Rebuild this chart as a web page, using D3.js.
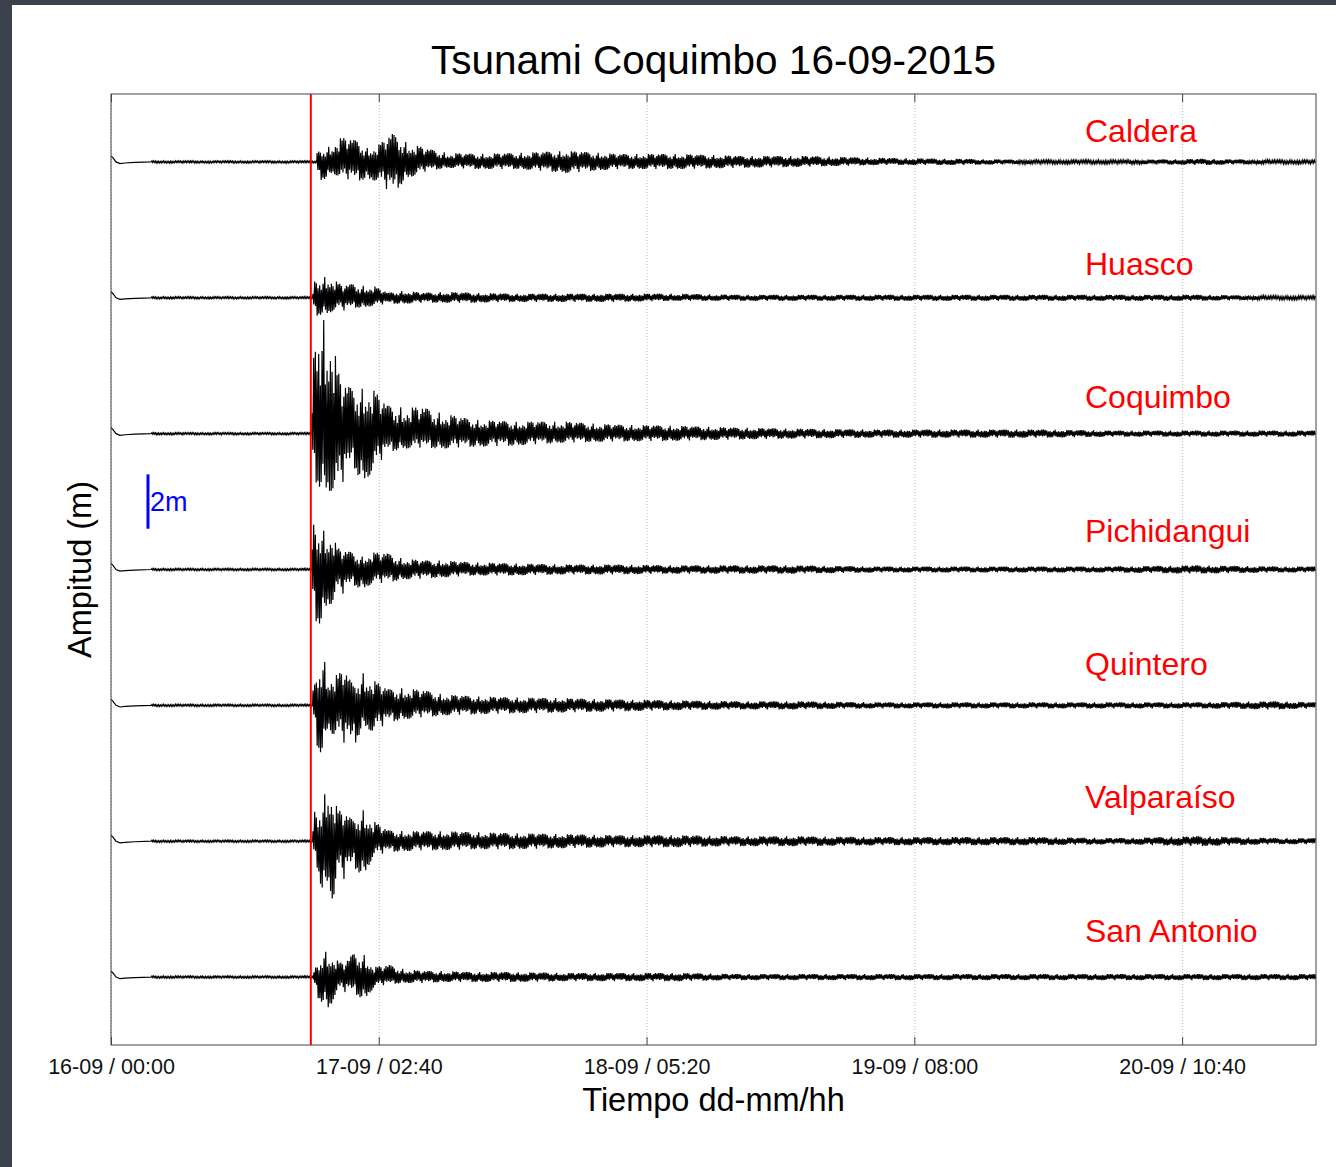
<!DOCTYPE html>
<html>
<head>
<meta charset="utf-8">
<script src="https://cdn.jsdelivr.net/npm/d3@7"></script>
<style>
  html, body { margin: 0; padding: 0; background: #ffffff; }
  svg { display: block; }
  text { font-family: "Liberation Sans", Arial, sans-serif; }
</style>
</head>
<body>
<svg id="chart" width="1336" height="1167"></svg>
<script>
// ---------------- DATA ----------------
const stations = ["Caldera", "Huasco", "Coquimbo", "Pichidangui", "Quintero", "Valparaíso", "San Antonio"];
const stationOffsetM = [30, 25, 20, 15, 10, 5, 0];          // vertical stacking offset (m)
const arrivalMin = [1231, 1207, 1201, 1201, 1207, 1207, 1213]; // first arrival, minutes after 16-09 00:00
const quakeMin = 1194;                                        // 16-09 19:54 (red line)

const xTickMinutes = [0, 1600, 3200, 4800, 6400];
const xTickLabels = ["16-09 / 00:00", "17-09 / 02:40", "18-09 / 05:20", "19-09 / 08:00", "20-09 / 10:40"];

// record start transient (minutes, metres), shared by all gauges
const startShape = [[0, 0.22], [12, 0.15], [30, 0.0], [54, -0.06], [84, -0.04], [143, -0.02], [240, 0]];
const baselineNoiseM = 0.04;

// envelope sample times: minutes after each gauge's arrival
const envRelMin = [0, 10, 30, 60, 90, 120, 150, 180, 240, 300, 360, 450, 540, 660, 780, 960, 1200, 1500, 1800, 2160, 2520, 2880, 3360, 3840, 4320, 4800, 5280, 5760, 6000];

// upper envelope (m, crest heights)
const envUpCaldera     = [0.33, 0.40, 0.44, 0.51, 0.66, 0.85, 0.88, 0.88, 0.77, 0.51, 0.59, 1.03, 0.70, 0.48, 0.33, 0.29, 0.33, 0.40, 0.29, 0.29, 0.22, 0.22, 0.15, 0.11, 0.07, 0.07, 0.11, 0.07, 0.07];
const envUpHuasco      = [0.15, 0.63, 0.70, 0.74, 0.81, 0.70, 0.55, 0.44, 0.51, 0.44, 0.44, 0.18, 0.26, 0.18, 0.22, 0.18, 0.15, 0.15, 0.15, 0.15, 0.11, 0.11, 0.11, 0.11, 0.11, 0.11, 0.11, 0.07, 0.07];
const envUpCoquimbo    = [0.74, 2.94, 4.60, 4.34, 3.86, 3.79, 2.39, 1.84, 1.65, 1.65, 1.65, 1.03, 0.96, 0.96, 0.74, 0.51, 0.44, 0.44, 0.33, 0.29, 0.22, 0.18, 0.15, 0.15, 0.15, 0.11, 0.11, 0.11, 0.11];
const envUpPichidangui = [0.74, 1.73, 1.47, 1.51, 1.25, 1.32, 0.81, 0.70, 0.63, 0.48, 0.63, 0.59, 0.40, 0.33, 0.33, 0.26, 0.22, 0.18, 0.18, 0.15, 0.15, 0.15, 0.11, 0.11, 0.11, 0.11, 0.15, 0.11, 0.11];
const envUpQuintero    = [0.55, 0.81, 1.29, 1.84, 1.10, 1.14, 1.10, 1.36, 0.74, 1.18, 0.92, 0.59, 0.63, 0.55, 0.40, 0.33, 0.29, 0.26, 0.22, 0.18, 0.15, 0.15, 0.11, 0.11, 0.11, 0.11, 0.11, 0.15, 0.11];
const envUpValparaiso  = [0.37, 1.14, 1.03, 1.51, 2.17, 1.62, 1.14, 1.07, 0.77, 1.14, 0.74, 0.40, 0.37, 0.37, 0.37, 0.33, 0.29, 0.26, 0.22, 0.22, 0.18, 0.18, 0.15, 0.15, 0.15, 0.11, 0.18, 0.11, 0.11];
const envUpSanAntonio  = [0.18, 0.37, 0.51, 0.99, 0.81, 0.74, 0.55, 0.51, 0.88, 0.81, 0.37, 0.44, 0.29, 0.22, 0.22, 0.18, 0.18, 0.15, 0.15, 0.15, 0.11, 0.11, 0.11, 0.11, 0.11, 0.11, 0.11, 0.11, 0.11];

// lower envelope (m, trough depths)
const envDnCaldera     = [0.33, 0.66, 0.66, 0.59, 0.40, 0.51, 0.59, 0.63, 0.70, 0.63, 0.70, 1.18, 0.59, 0.33, 0.22, 0.26, 0.26, 0.40, 0.26, 0.26, 0.22, 0.18, 0.11, 0.11, 0.07, 0.07, 0.11, 0.07, 0.07];
const envDnHuasco      = [0.15, 0.66, 0.66, 0.59, 0.59, 0.48, 0.40, 0.48, 0.37, 0.37, 0.29, 0.22, 0.22, 0.18, 0.18, 0.18, 0.15, 0.15, 0.15, 0.11, 0.11, 0.11, 0.11, 0.11, 0.11, 0.11, 0.11, 0.07, 0.07];
const envDnCoquimbo    = [0.51, 1.47, 1.91, 1.99, 2.10, 2.10, 2.17, 1.84, 1.10, 1.84, 1.40, 0.70, 0.55, 0.51, 0.55, 0.48, 0.44, 0.33, 0.29, 0.26, 0.22, 0.18, 0.15, 0.15, 0.15, 0.11, 0.11, 0.11, 0.11];
const envDnPichidangui = [0.74, 1.65, 1.99, 1.99, 1.29, 1.25, 0.81, 0.92, 0.55, 0.74, 0.51, 0.48, 0.37, 0.33, 0.29, 0.22, 0.22, 0.18, 0.18, 0.15, 0.15, 0.15, 0.11, 0.11, 0.11, 0.11, 0.15, 0.11, 0.11];
const envDnQuintero    = [0.37, 0.74, 1.73, 1.73, 0.74, 1.10, 1.18, 1.36, 1.58, 0.74, 0.99, 0.63, 0.51, 0.44, 0.37, 0.33, 0.29, 0.26, 0.22, 0.18, 0.15, 0.15, 0.11, 0.11, 0.11, 0.11, 0.11, 0.15, 0.11];
const envDnValparaiso  = [0.29, 0.70, 1.07, 2.06, 1.43, 2.24, 1.18, 1.43, 0.92, 1.32, 0.55, 0.40, 0.37, 0.33, 0.33, 0.29, 0.29, 0.26, 0.22, 0.22, 0.18, 0.18, 0.15, 0.15, 0.15, 0.11, 0.18, 0.11, 0.11];
const envDnSanAntonio  = [0.18, 0.55, 0.85, 0.96, 1.21, 0.74, 0.48, 0.55, 0.59, 0.85, 0.37, 0.26, 0.22, 0.22, 0.18, 0.18, 0.18, 0.15, 0.15, 0.15, 0.11, 0.11, 0.11, 0.11, 0.11, 0.11, 0.11, 0.11, 0.11];

const envUp = [envUpCaldera, envUpHuasco, envUpCoquimbo, envUpPichidangui, envUpQuintero, envUpValparaiso, envUpSanAntonio];
const envDn = [envDnCaldera, envDnHuasco, envDnCoquimbo, envDnPichidangui, envDnQuintero, envDnValparaiso, envDnSanAntonio];

// relative size of successive extremes within the envelope
const wigglePattern = [1.0, 0.6, 0.95, 0.45, 0.8, 1.0, 0.5, 0.9, 0.65, 1.0, 0.4, 0.9, 0.7, 0.55, 1.0, 0.75, 0.45, 0.95, 0.6, 0.85, 0.5, 1.0, 0.7];
const halfStepMin = 5;

const scaleBarMin = 221, scaleBarFrom = 16.5, scaleBarTo = 18.5;

// ---------------- DRAW ----------------
const W = 1336, H = 1167;
const P = { left: 111, right: 1316, top: 94, bottom: 1045 };
const svg = d3.select("#chart");

svg.append("rect").attr("width", W).attr("height", H).attr("fill", "#3b424d");
svg.append("rect").attr("x", 12).attr("y", 5).attr("width", W - 12).attr("height", H - 5).attr("fill", "#ffffff");

const x = d3.scaleLinear().domain([0, 7200]).range([P.left, P.right]);
const y = d3.scaleLinear().domain([-2.5, 32.5]).range([P.bottom, P.top]);

svg.append("defs").append("clipPath").attr("id", "plotclip")
  .append("rect").attr("x", P.left).attr("y", P.top)
  .attr("width", P.right - P.left).attr("height", P.bottom - P.top);

// grid lines
const grid = svg.append("g").attr("transform", `translate(0,${P.bottom})`)
  .call(d3.axisBottom(x).tickValues(xTickMinutes).tickSize(-(P.bottom - P.top)).tickFormat(""));
grid.select(".domain").remove();
grid.selectAll("line").attr("stroke", "#b8b8b8").attr("stroke-dasharray", "1,2").attr("stroke-width", 1);

// traces
const line = d3.line().x(d => x(d[0])).y(d => d[1]);
const traces = svg.append("g").attr("clip-path", "url(#plotclip)");
stations.forEach((name, i) => {
  const off = stationOffsetM[i];
  const arr = arrivalMin[i];
  const pts = startShape.map(d => [d[0], d[1]]);
  let k = 0;
  for (let t = startShape[startShape.length - 1][0] + halfStepMin; t < arr; t += halfStepMin, k++) {
    pts.push([t, (k % 2 === 0 ? 1 : -1) * baselineNoiseM * wigglePattern[k % wigglePattern.length]]);
  }
  const dom = envRelMin.map(r => arr + r);
  const up = d3.scaleLinear().domain(dom).range(envUp[i]).clamp(true);
  const dn = d3.scaleLinear().domain(dom).range(envDn[i]).clamp(true);
  k = 0;
  for (let t = arr; t <= 7200; t += halfStepMin, k++) {
    const a = k % 2 === 0 ? up(t) : -dn(t);
    pts.push([t, a * wigglePattern[k % wigglePattern.length]]);
  }
  traces.append("path")
    .datum(pts.map(d => [d[0], y(off + d[1])]))
    .attr("d", line)
    .attr("fill", "none")
    .attr("stroke", "#000")
    .attr("stroke-width", 1.2);
});

// red quake line
svg.append("line")
  .attr("x1", x(quakeMin)).attr("x2", x(quakeMin))
  .attr("y1", P.top).attr("y2", P.bottom)
  .attr("stroke", "#ff0000").attr("stroke-width", 2);

// frame
svg.append("rect").attr("x", P.left).attr("y", P.top)
  .attr("width", P.right - P.left).attr("height", P.bottom - P.top)
  .attr("fill", "none").attr("stroke", "#444").attr("stroke-width", 1);

// axes ticks (inward) bottom and top
const xb = svg.append("g").attr("transform", `translate(0,${P.bottom})`)
  .call(d3.axisBottom(x).tickValues(xTickMinutes).tickSize(-8)
    .tickFormat((d, j) => xTickLabels[j]));
xb.select(".domain").remove();
xb.selectAll("line").attr("stroke", "#444");
xb.selectAll("text").attr("y", 29).attr("dy", null)
  .attr("font-size", "21.5px").attr("fill", "#111")
  .style("font-family", '"Liberation Sans", Arial, sans-serif');

const xt = svg.append("g").attr("transform", `translate(0,${P.top})`)
  .call(d3.axisTop(x).tickValues(xTickMinutes).tickSize(-8).tickFormat(""));
xt.select(".domain").remove();
xt.selectAll("line").attr("stroke", "#444");

// station labels
const labelY = d3.scaleLinear().domain([0, stations.length - 1]).range([y(stationOffsetM[0]) - 20, y(stationOffsetM[6]) - 35.5]);
svg.append("g").selectAll("text").data(stations).join("text")
  .attr("x", 1085).attr("y", (d, i) => labelY(i))
  .attr("fill", "#ff0000").attr("font-size", "32px").text(d => d);

// scale bar
svg.append("line")
  .attr("x1", x(scaleBarMin)).attr("x2", x(scaleBarMin))
  .attr("y1", y(scaleBarFrom)).attr("y2", y(scaleBarTo))
  .attr("stroke", "#0000ff").attr("stroke-width", 3);
svg.append("text").attr("x", x(scaleBarMin) + 2).attr("y", 511)
  .attr("fill", "#0000ff").attr("font-size", "27px").text("2m");

// titles
svg.append("text").attr("x", (P.left + P.right) / 2).attr("y", 74)
  .attr("text-anchor", "middle").attr("font-size", "40.5px").attr("fill", "#000")
  .text("Tsunami Coquimbo 16-09-2015");
svg.append("text").attr("x", (P.left + P.right) / 2).attr("y", 1111)
  .attr("text-anchor", "middle").attr("font-size", "32.5px").attr("fill", "#000")
  .text("Tiempo dd-mm/hh");
svg.append("text")
  .attr("transform", `translate(91,${(P.top + P.bottom) / 2}) rotate(-90)`)
  .attr("text-anchor", "middle").attr("font-size", "32.5px").attr("fill", "#000")
  .text("Ampitud (m)");
</script>
</body>
</html>
